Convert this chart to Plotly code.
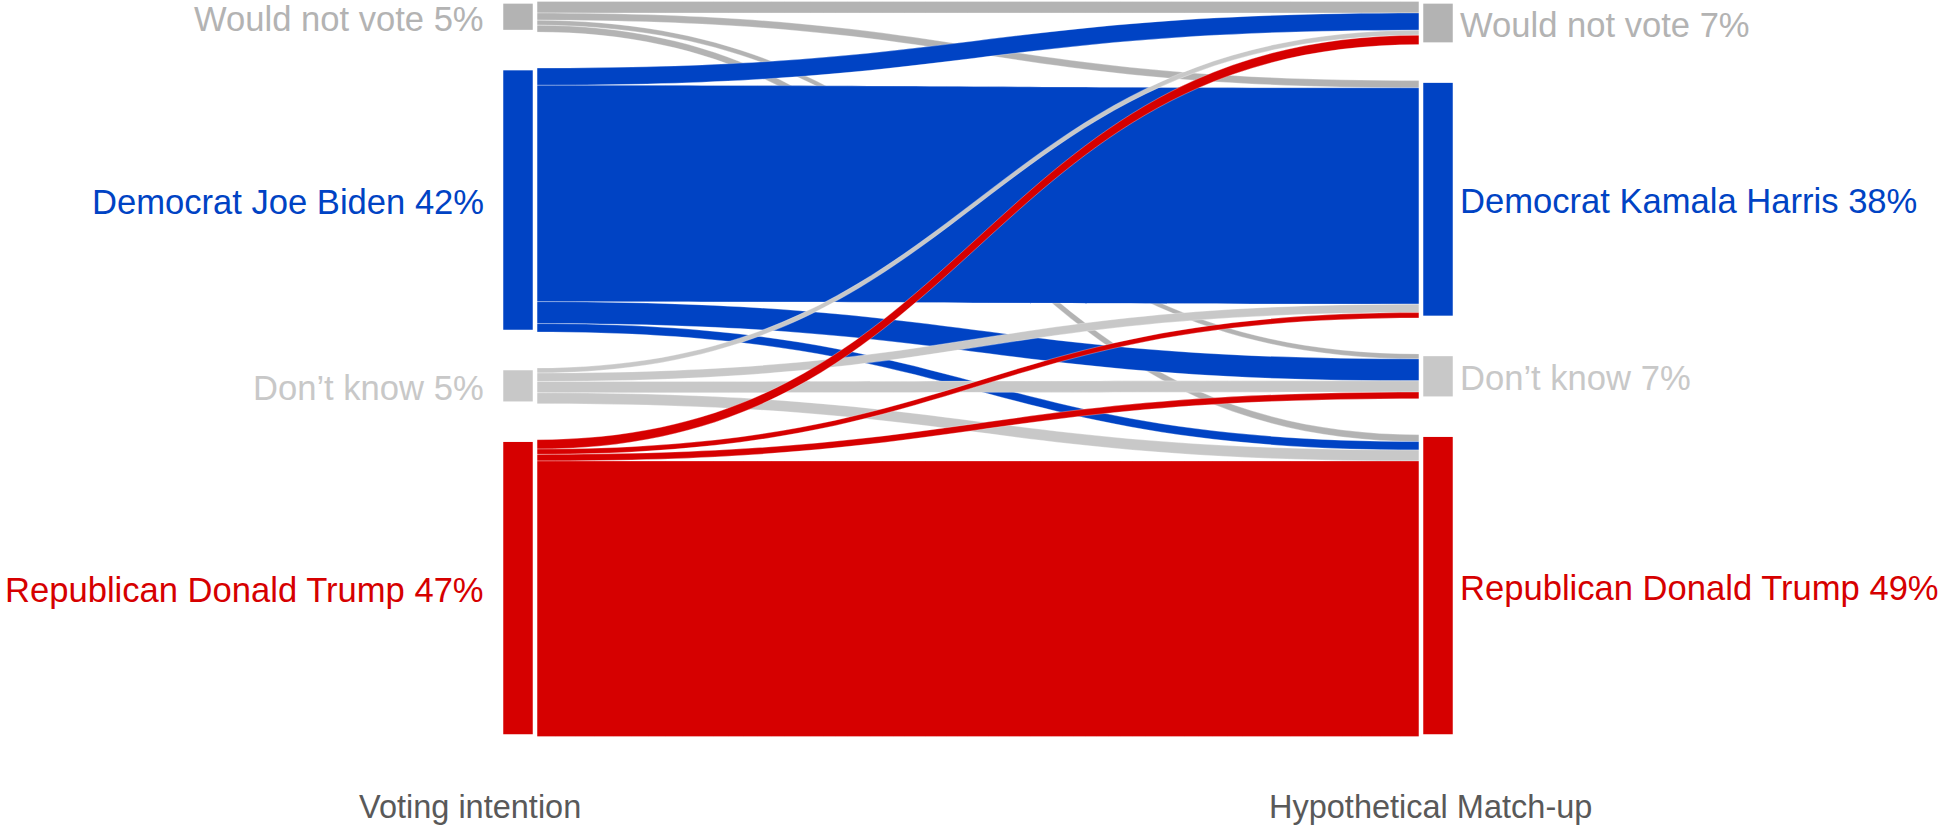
import plotly.graph_objects as go

# ---------------- data ----------------
left_labels = ["Would not vote 5%", "Democrat Joe Biden 42%", "Don’t know 5%", "Republican Donald Trump 47%"]
right_labels = ["Would not vote 7%", "Democrat Kamala Harris 38%", "Don’t know 7%", "Republican Donald Trump 49%"]
column_titles = ["Voting intention", "Hypothetical Match-up"]

# share of respondents (%) moving from each voting intention to each
# hypothetical match-up choice, targets ordered: Would not vote, Harris, Don't know, Trump
from_would_not_vote = [1.85, 1.15, 0.8, 1.1]
from_biden = [2.75, 34.55, 3.5, 1.35]
from_dont_know = [0.8, 1.35, 1.8, 1.75]
from_trump = [1.5, 0.85, 1.05, 44.0]

node_colors = ["#B3B3B3", "#0043C4", "#C8C8C8", "#D60000"]
title_color = "#595959"

# ---------------- layout geometry ----------------
W, H = 1941, 826
x0_px, x1_px = 501, 1455
y0_px, y1_px = 1.4, 736.5
thickness = 34
pad = 36
font_family = "Liberation Sans, Arial, sans-serif"

flows = [from_would_not_vote, from_biden, from_dont_know, from_trump]
n = len(flows)

sources, targets, values, link_colors = [], [], [], []
for i, row in enumerate(flows):
    for j, v in enumerate(row):
        sources.append(i)
        targets.append(n + j)
        values.append(v)
        link_colors.append(node_colors[i])

left_tot = [sum(r) for r in flows]
right_tot = [sum(flows[i][j] for i in range(n)) for j in range(n)]

dom_w = x1_px - x0_px
dom_h = y1_px - y0_px
ky = (dom_h - (n - 1) * pad) / max(sum(left_tot), sum(right_tot))


def centers(tots):
    y = 0.0
    out = []
    for t in tots:
        h = t * ky
        out.append(y + h / 2)
        y += h + pad
    return out


left_c = centers(left_tot)
right_c = centers(right_tot)

node_x = [thickness / 2 / dom_w] * n + [1 - thickness / 2 / dom_w] * n
node_y = [c / dom_h for c in left_c] + [c / dom_h for c in right_c]

fig = go.Figure(go.Sankey(
    arrangement="fixed",
    domain=dict(x=[x0_px / W, x1_px / W], y=[1 - y1_px / H, 1 - y0_px / H]),
    node=dict(
        label=left_labels + right_labels,
        color=node_colors + node_colors,
        thickness=thickness,
        pad=pad,
        line=dict(color="white", width=4.5),
        x=node_x,
        y=node_y,
        hovertemplate="%{label}<extra></extra>",
    ),
    link=dict(
        source=sources,
        target=targets,
        value=values,
        color=link_colors,
        line=dict(color="rgba(255,255,255,0.6)", width=0.5),
        hovertemplate="%{source.label} → %{target.label}: %{value:.1f}%<extra></extra>",
    ),
    textfont=dict(color="rgba(0,0,0,0)", size=1),
))

label_shift = 2  # px, text optical centring
label_size = 34.6
annotations = []
for lab, c, col in zip(left_labels, left_c, node_colors):
    annotations.append(dict(
        text=lab, xref="paper", yref="paper",
        x=(x0_px - 15) / W, y=1 - (y0_px + c + label_shift) / H,
        xanchor="right", yanchor="middle", showarrow=False,
        font=dict(family=font_family, size=label_size, color=col),
    ))
for lab, c, col in zip(right_labels, right_c, node_colors):
    annotations.append(dict(
        text=lab, xref="paper", yref="paper",
        x=(x1_px + 3) / W, y=1 - (y0_px + c + label_shift) / H,
        xanchor="left", yanchor="middle", showarrow=False,
        font=dict(family=font_family, size=label_size, color=col),
    ))
for title, xc in zip(column_titles, [470, 1430]):
    annotations.append(dict(
        text=title, xref="paper", yref="paper",
        x=xc / W, y=1 - 807 / H,
        xanchor="center", yanchor="middle", showarrow=False,
        font=dict(family=font_family, size=32.5, color=title_color),
    ))

fig.update_layout(
    width=W, height=H,
    margin=dict(l=0, r=0, t=0, b=0),
    paper_bgcolor="white",
    plot_bgcolor="white",
    annotations=annotations,
    showlegend=False,
)

fig.write_html(
    "out.html",
    config={"displayModeBar": False},
    post_script="document.body.style.margin='0px';",
)
